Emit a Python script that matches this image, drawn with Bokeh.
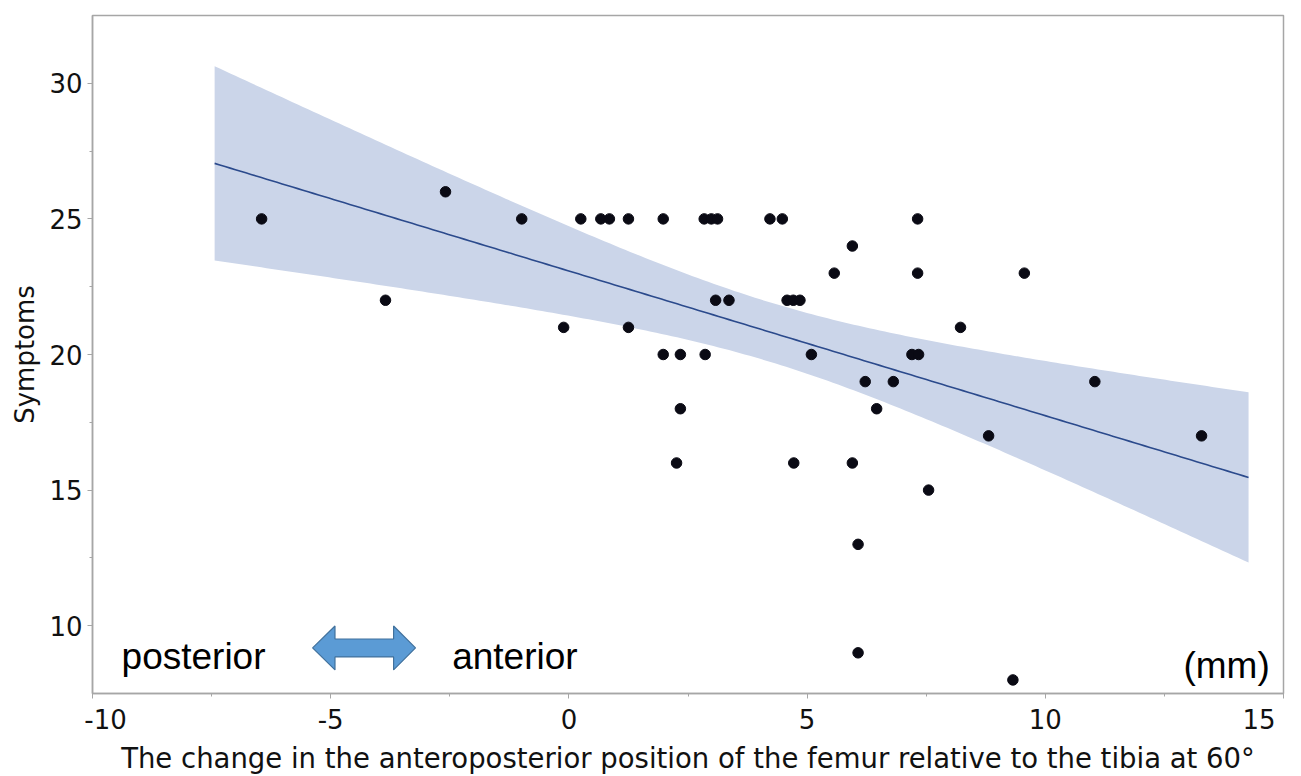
import numpy as np
from bokeh.plotting import figure
from bokeh.models import Label, Range1d, FixedTicker
from bokeh.embed import file_html
from bokeh.resources import INLINE

# ---- data (x: mm, y: symptom score) ----
displacement_mm = [
    -6.45, -0.99, 0.25, 0.67, 0.85, 1.25, 1.98, 2.84, 2.99, 3.12, 4.22, 4.48, 7.32,  # 25
    -2.59,                                                                           # 26
    5.95,                                                                            # 24
    5.57, 7.32, 9.56,                                                                # 23
    -3.85, 3.08, 3.36, 4.58, 4.71, 4.85,                                             # 22
    -0.11, 1.25, 8.22,                                                               # 21
    1.98, 2.34, 2.86, 5.09, 7.20, 7.34,                                              # 20
    6.22, 6.81, 11.04,                                                               # 19
    2.34, 6.46,                                                                      # 18
    8.81, 13.28,                                                                     # 17
    2.26, 4.72, 5.95,                                                                # 16
    7.55,                                                                            # 15
    6.07,                                                                            # 13
    6.07,                                                                            # 9
    9.32,                                                                            # 8
]
symptoms = (
    [25] * 13 + [26] + [24] + [23] * 3 + [22] * 6 + [21] * 3 + [20] * 6
    + [19] * 3 + [18] * 2 + [17] * 2 + [16] * 3 + [15] + [13] + [9] + [8]
)

x_ticks = [-10, -5, 0, 5, 10, 15]
x_minor = [-7.5, -2.5, 2.5, 7.5, 12.5]
y_ticks = [10, 15, 20, 25, 30]
y_minor = [12.5, 17.5, 22.5, 27.5]
x_tick_labels = {-10: "\u2003-10", -5: "-5", 0: "0", 5: "5", 10: "10", 15: "15\u2003"}

x_label = "The change in the anteroposterior position of the femur relative to the tibia at 60\u00b0"
y_label = "Symptoms"

# ---- linear fit with 95% confidence band for the mean ----
x = np.array(displacement_mm, dtype=float)
y = np.array(symptoms, dtype=float)
n = len(x)
slope, intercept = np.polyfit(x, y, 1)
resid = y - (intercept + slope * x)
s = np.sqrt(np.sum(resid ** 2) / (n - 2))
xm = x.mean()
sxx = np.sum((x - xm) ** 2)
t_crit = 2.0141  # t(0.975, n-2)
span = x.max() - x.min()
xs = np.linspace(x.min() - 0.05 * span, x.max() + 0.05 * span, 200)
fit = intercept + slope * xs
half = t_crit * s * np.sqrt(1.0 / n + (xs - xm) ** 2 / sxx)

FONT = "DejaVu Sans"
ARIAL = "Liberation Sans"
GREY = "#a6a6a6"

p = figure(width=1301, height=776, output_backend="svg", toolbar_location=None,
           x_range=Range1d(-10, 15), y_range=Range1d(7.5, 32.5),
           min_border_left=92, min_border_right=18, min_border_top=15, min_border_bottom=82)
p.background_fill_color = "white"
p.border_fill_color = "white"
p.outline_line_color = GREY
p.outline_line_width = 1.5
p.xgrid.visible = False
p.ygrid.visible = False

# band and fit line
p.varea(x=xs, y1=fit - half, y2=fit + half, fill_color="#cbd5e9", fill_alpha=1.0)
p.line(xs, fit, line_color="#2b4a8c", line_width=1.6)

# points
p.scatter(x, y, size=10.5, fill_color="#0a0a14", line_color="#0a0a14", marker="circle")

# double arrow (decoration, data units)
ax_l, ax_hl, ax_hr, ax_r = -5.38, -4.91, -3.68, -3.22
ay, ah, asw = 9.18, 0.81, 0.33
p.patch([ax_l, ax_hl, ax_hl, ax_hr, ax_hr, ax_r, ax_hr, ax_hr, ax_hl, ax_hl],
        [ay, ay + ah, ay + asw, ay + asw, ay + ah, ay, ay - ah, ay - asw, ay - asw, ay - ah],
        fill_color="#5b9bd5", line_color="#41719c", line_width=1.2)

for txt, tx, ty in [("posterior", -9.39, 8.88), ("anterior", -2.45, 8.88), ("(mm)", 12.90, 8.52)]:
    p.add_layout(Label(x=tx, y=ty, text=txt, text_font=ARIAL, text_font_size="37px",
                       text_color="#000000", text_baseline="alphabetic", text_align="left"))

for ax in (p.xaxis[0], p.yaxis[0]):
    ax.axis_line_color = GREY
    ax.axis_line_width = 1.5
    ax.major_tick_line_color = GREY
    ax.minor_tick_line_color = GREY
    ax.major_tick_out = 5
    ax.major_tick_in = 0
    ax.minor_tick_out = 3
    ax.minor_tick_in = 0
    ax.major_label_text_font = FONT
    ax.major_label_text_font_size = "26px"
    ax.major_label_text_color = "#111111"
    ax.axis_label_text_font = FONT
    ax.axis_label_text_font_style = "normal"
    ax.axis_label_text_color = "#111111"

p.xaxis.ticker = FixedTicker(ticks=x_ticks, minor_ticks=x_minor)
p.yaxis.ticker = FixedTicker(ticks=y_ticks, minor_ticks=y_minor)
p.xaxis.major_label_overrides = x_tick_labels
p.xaxis.axis_label = x_label
p.yaxis.axis_label = y_label
p.xaxis.axis_label_text_font_size = "27.5px"
p.yaxis.axis_label_text_font_size = "26px"
p.xaxis.major_label_standoff = 6
p.yaxis.major_label_standoff = 5
p.xaxis.axis_label_standoff = 4
p.yaxis.axis_label_standoff = 6

open("out.html", "w").write(file_html(p, INLINE))
